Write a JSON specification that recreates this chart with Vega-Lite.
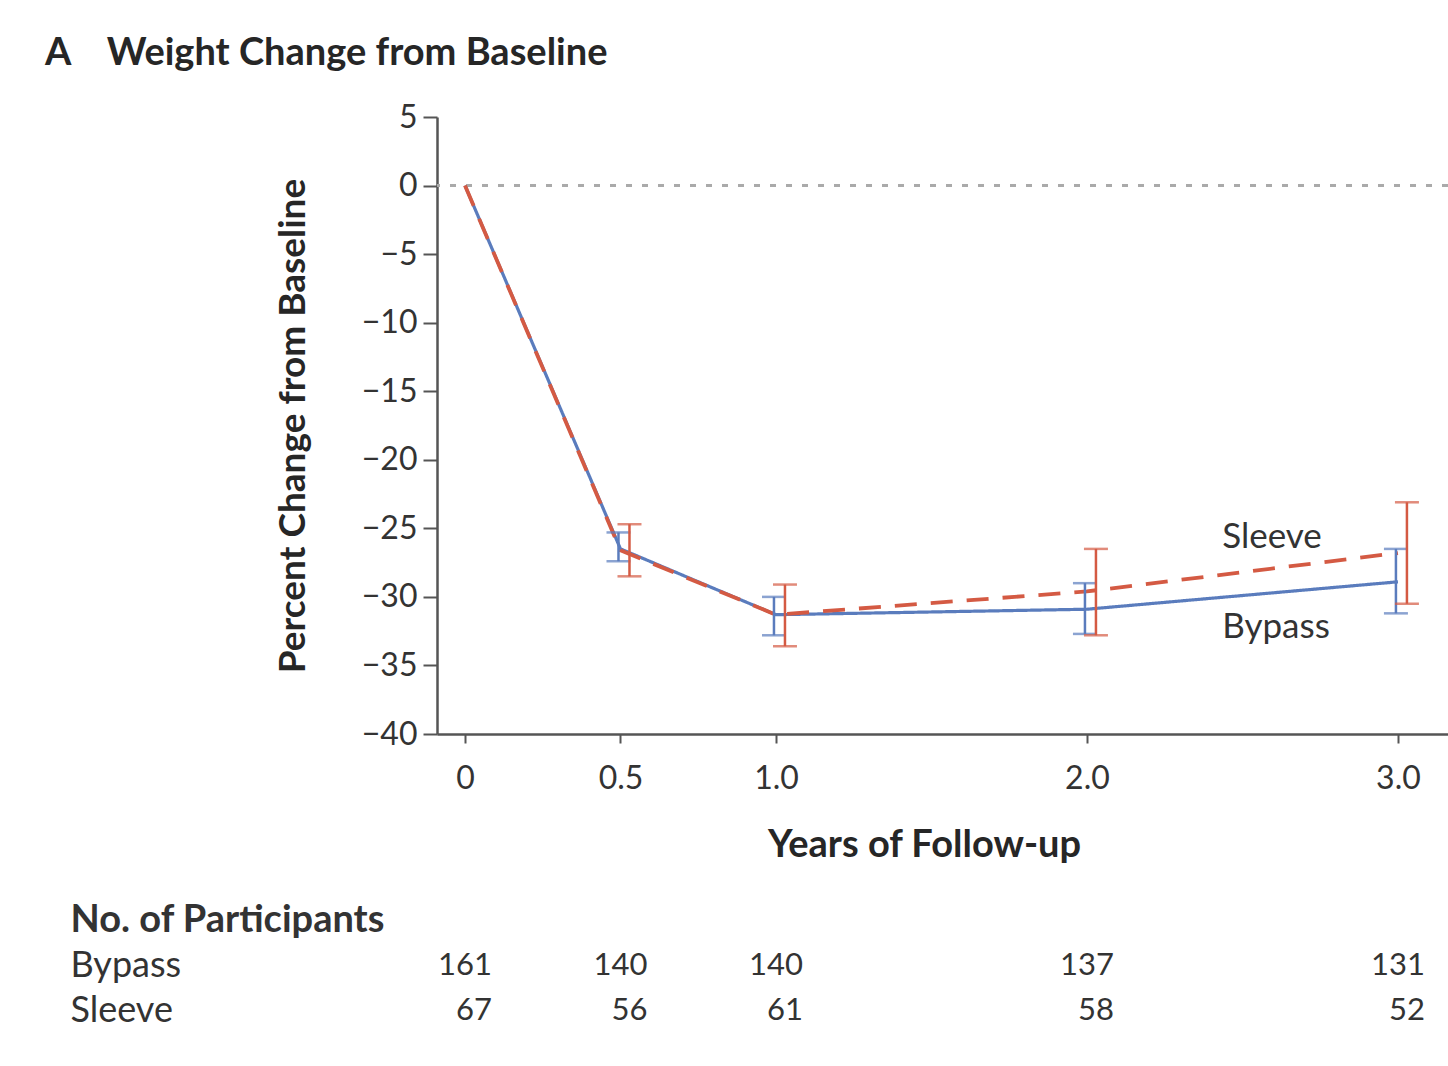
{
  "$schema": "https://vega.github.io/schema/vega-lite/v6.json",
  "background": "white",
  "padding": {"left": 45, "top": 35, "right": 0, "bottom": 0},
  "config": {
    "font": "Lato",
    "view": {"stroke": null},
    "concat": {"spacing": 34}
  },
  "datasets": {
    "series": [
      {"group": "Bypass", "year": 0, "mean": 0},
      {"group": "Bypass", "year": 0.5, "mean": -26.5, "lo": -27.4, "hi": -25.3},
      {"group": "Bypass", "year": 1, "mean": -31.3, "lo": -32.8, "hi": -30.0},
      {"group": "Bypass", "year": 2, "mean": -30.9, "lo": -32.7, "hi": -29.0},
      {"group": "Bypass", "year": 3, "mean": -28.9, "lo": -31.2, "hi": -26.5},
      {"group": "Sleeve", "year": 0, "mean": 0},
      {"group": "Sleeve", "year": 0.5, "mean": -26.6, "lo": -28.5, "hi": -24.7},
      {"group": "Sleeve", "year": 1, "mean": -31.3, "lo": -33.6, "hi": -29.1},
      {"group": "Sleeve", "year": 2, "mean": -29.6, "lo": -32.8, "hi": -26.5},
      {"group": "Sleeve", "year": 3, "mean": -26.8, "lo": -30.5, "hi": -23.1}
    ],
    "labels": [
      {"label": "Sleeve", "year": 2.435, "mean": -25.6},
      {"label": "Bypass", "year": 2.435, "mean": -32.2}
    ],
    "counts": [
      {"group": "Bypass", "year": 0, "n": 161},
      {"group": "Bypass", "year": 0.5, "n": 140},
      {"group": "Bypass", "year": 1, "n": 140},
      {"group": "Bypass", "year": 2, "n": 137},
      {"group": "Bypass", "year": 3, "n": 131},
      {"group": "Sleeve", "year": 0, "n": 67},
      {"group": "Sleeve", "year": 0.5, "n": 56},
      {"group": "Sleeve", "year": 1, "n": 61},
      {"group": "Sleeve", "year": 2, "n": 58},
      {"group": "Sleeve", "year": 3, "n": 52}
    ]
  },
  "vconcat": [
    {
      "width": 1011,
      "height": 617,
      "title": {
        "text": "A\u00a0\u00a0\u00a0\u00a0Weight Change from Baseline",
        "anchor": "start",
        "frame": "group",
        "dx": -392,
        "offset": 28,
        "fontSize": 38,
        "fontWeight": "bold",
        "color": "#262626"
      },
      "data": {"name": "series"},
      "encoding": {
        "x": {
          "field": "year",
          "type": "quantitative",
          "scale": {"domain": [-0.09, 3.161], "nice": false, "zero": false},
          "axis": {
            "values": [0, 0.5, 1, 2, 3],
            "labelExpr": "datum.value == 0 ? '0' : format(datum.value, '.1f')",
            "grid": false,
            "domainColor": "#555555",
            "domainWidth": 2.5,
            "tickColor": "#555555",
            "tickWidth": 2,
            "tickSize": 9,
            "labelPadding": 20,
            "labelFontSize": 32,
            "labelColor": "#333333",
            "title": "Years of Follow-up",
            "titleFontSize": 38,
            "titleFontWeight": "bold",
            "titleColor": "#262626",
            "titlePadding": 32,
            "titleX": 487
          }
        },
        "y": {
          "field": "mean",
          "type": "quantitative",
          "scale": {"domain": [-40, 5], "nice": false, "zero": false},
          "axis": {
            "values": [5, 0, -5, -10, -15, -20, -25, -30, -35, -40],
            "grid": false,
            "domainColor": "#555555",
            "domainWidth": 2.5,
            "tickColor": "#555555",
            "tickWidth": 2,
            "tickSize": 14,
            "labelPadding": 6,
            "labelFontSize": 32,
            "labelColor": "#333333",
            "title": "Percent Change from Baseline",
            "titleFontSize": 37,
            "titleFontWeight": "bold",
            "titleColor": "#262626",
            "titlePadding": 49
          }
        }
      },
      "layer": [
        {
          "mark": {"type": "rule", "color": "#aaaaaa", "strokeWidth": 2, "strokeDash": [6, 10]},
          "encoding": {"x": null, "y": {"datum": 0}}
        },
        {
          "mark": {"type": "line"},
          "encoding": {
            "color": {"field": "group", "type": "nominal", "scale": {"domain": ["Bypass", "Sleeve"], "range": ["#5a7cbd", "#d45a43"]}, "legend": null},
            "strokeDash": {"field": "group", "type": "nominal", "scale": {"domain": ["Bypass", "Sleeve"], "range": [[1, 0], [22, 14]]}, "legend": null},
            "strokeWidth": {"field": "group", "type": "nominal", "scale": {"domain": ["Bypass", "Sleeve"], "range": [3.2, 3.8]}, "legend": null}
          }
        },
        {
          "transform": [{"filter": "datum.group == 'Bypass' && isValid(datum.lo)"}],
          "mark": {"type": "rule", "color": "#5a7cbd", "strokeWidth": 2.5, "xOffset": -2},
          "encoding": {"y": {"field": "lo", "type": "quantitative"}, "y2": {"field": "hi"}}
        },
        {
          "transform": [{"filter": "datum.group == 'Bypass' && isValid(datum.lo)"}],
          "mark": {"type": "tick", "orient": "horizontal", "color": "#5a7cbd", "size": 24, "thickness": 2.5, "xOffset": -2},
          "encoding": {"y": {"field": "lo", "type": "quantitative"}}
        },
        {
          "transform": [{"filter": "datum.group == 'Bypass' && isValid(datum.lo)"}],
          "mark": {"type": "tick", "orient": "horizontal", "color": "#5a7cbd", "size": 24, "thickness": 2.5, "xOffset": -2},
          "encoding": {"y": {"field": "hi", "type": "quantitative"}}
        },
        {
          "transform": [{"filter": "datum.group == 'Sleeve' && isValid(datum.lo)"}],
          "mark": {"type": "rule", "color": "#d45a43", "strokeWidth": 2.5, "xOffset": 9},
          "encoding": {"y": {"field": "lo", "type": "quantitative"}, "y2": {"field": "hi"}}
        },
        {
          "transform": [{"filter": "datum.group == 'Sleeve' && isValid(datum.lo)"}],
          "mark": {"type": "tick", "orient": "horizontal", "color": "#d45a43", "size": 24, "thickness": 2.5, "xOffset": 9},
          "encoding": {"y": {"field": "lo", "type": "quantitative"}}
        },
        {
          "transform": [{"filter": "datum.group == 'Sleeve' && isValid(datum.lo)"}],
          "mark": {"type": "tick", "orient": "horizontal", "color": "#d45a43", "size": 24, "thickness": 2.5, "xOffset": 9},
          "encoding": {"y": {"field": "hi", "type": "quantitative"}}
        },
        {
          "data": {"name": "labels"},
          "mark": {"type": "text", "align": "left", "baseline": "middle", "fontSize": 35, "color": "#333333"},
          "encoding": {"text": {"field": "label"}}
        }
      ]
    },
    {
      "width": 1011,
      "height": 135,
      "data": {"name": "counts"},
      "mark": {"type": "text", "align": "right", "baseline": "middle", "dx": 27, "fontSize": 31, "color": "#333333"},
      "encoding": {
        "x": {
          "field": "year",
          "type": "quantitative",
          "scale": {"domain": [-0.09, 3.161], "nice": false, "zero": false},
          "axis": null
        },
        "y": {
          "field": "group",
          "type": "nominal",
          "scale": {"type": "point", "domain": ["No. of Participants", "Bypass", "Sleeve"], "padding": 0.5},
          "axis": {
            "title": null,
            "ticks": false,
            "domain": false,
            "labelAlign": "left",
            "labelBaseline": "middle",
            "labelPadding": 367,
            "labelLimit": 0,
            "labelFontSize": {"condition": {"test": "datum.value == 'No. of Participants'", "value": 38}, "value": 36},
            "labelColor": "#333333",
            "labelFontWeight": {"condition": {"test": "datum.value == 'No. of Participants'", "value": "bold"}, "value": "normal"}
          }
        },
        "text": {"field": "n", "type": "quantitative"}
      }
    }
  ]
}
